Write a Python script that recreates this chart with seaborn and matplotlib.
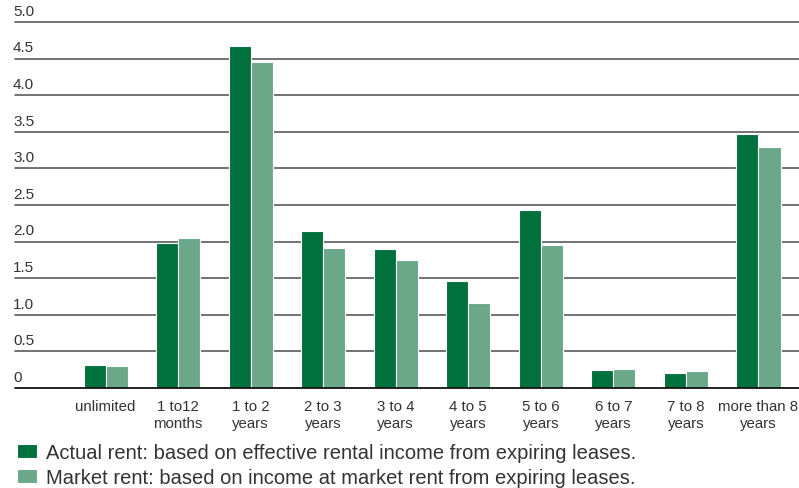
import matplotlib
matplotlib.use("Agg")
import matplotlib.pyplot as plt
import matplotlib.transforms as mtransforms
import seaborn as sns
import pandas as pd

categories = ["unlimited", "1 to12\nmonths", "1 to 2\nyears", "2 to 3\nyears", "3 to 4\nyears",
              "4 to 5\nyears", "5 to 6\nyears", "6 to 7\nyears", "7 to 8\nyears", "more than 8\nyears"]
actual = [0.31, 1.98, 4.67, 2.14, 1.90, 1.46, 2.43, 0.25, 0.21, 3.47]
market = [0.30, 2.05, 4.45, 1.91, 1.75, 1.16, 1.95, 0.26, 0.23, 3.29]
series = ["Actual rent: based on effective rental income from expiring leases.",
          "Market rent: based on income at market rent from expiring leases."]
yticks = [0, 0.5, 1.0, 1.5, 2.0, 2.5, 3.0, 3.5, 4.0, 4.5, 5.0]
ytick_labels = ["0", "0.5", "1.0", "1.5", "2.0", "2.5", "3.0", "3.5", "4.0", "4.5", "5.0"]

df = pd.DataFrame({
    "category": categories * 2,
    "value": actual + market,
    "series": [series[0]] * len(categories) + [series[1]] * len(categories),
})

sns.set_style("white")
plt.rcParams["font.family"] = ["Liberation Sans", "DejaVu Sans"]

fig = plt.figure(figsize=(7.99, 4.89), dpi=100)
ax = fig.add_axes([15 / 799, (489 - 389) / 489, 1 - 15 / 799, (389 - 23) / 489])

palette = {series[0]: "#00703c", series[1]: "#6aa889"}
sns.barplot(data=df, x="category", y="value", hue="series", palette=palette,
            width=0.61, ax=ax, edgecolor="white", linewidth=0.8, saturation=1, zorder=3)

ax.set_xlim(-1.25, 9.56)
ax.set_ylim(0, 5.0)
for s in ax.spines.values():
    s.set_visible(False)

for v in yticks:
    if v == 0:
        ax.axhline(v, color="#111111", lw=1.3, zorder=4, clip_on=False)
    else:
        ax.axhline(v, color="#5a5a5a", lw=1.2, zorder=1, clip_on=False)

ax.set_yticks([])
trans = mtransforms.blended_transform_factory(fig.transFigure, ax.transData)
offs = mtransforms.offset_copy(trans, fig=fig, x=0, y=3, units="points")
for v, lab in zip(yticks, ytick_labels):
    ax.text(13 / 799, v, lab, transform=offs, ha="left", va="bottom",
            fontsize=11, color="#333333")

ax.set_xticks(range(len(categories)))
ax.set_xticklabels(categories, fontsize=10.8, color="#333333", linespacing=1.22)
ax.tick_params(axis="x", length=0, pad=8)
ax.set_xlabel("")
ax.set_ylabel("")

leg = ax.legend(loc="upper left", bbox_to_anchor=(17 / 799, (489 - 444) / 489),
                bbox_transform=fig.transFigure, frameon=False, fontsize=14.5,
                handlelength=1.0, handleheight=0.7, handletextpad=0.45,
                labelspacing=0.3, borderaxespad=0, borderpad=0)
for t in leg.get_texts():
    t.set_color("#333333")

fig.savefig("out.png", dpi=100)
